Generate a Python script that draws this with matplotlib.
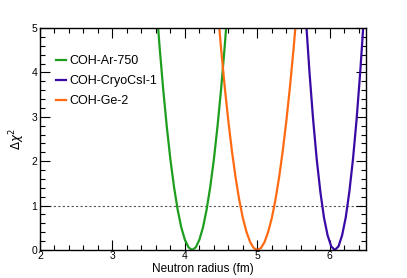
import numpy as np
import matplotlib
matplotlib.use("Agg")
import matplotlib.pyplot as plt
from matplotlib.ticker import MultipleLocator

plt.rcParams['font.family'] = ['Liberation Sans', 'DejaVu Sans']

# scan points: neutron radius (fm) vs delta chi2
ar_r = [3.60, 3.65, 3.70, 3.75, 3.80, 3.85, 3.90, 3.95, 4.00, 4.05, 4.10,
        4.15, 4.20, 4.25, 4.30, 4.35, 4.40, 4.45, 4.50, 4.55, 4.60]
ar_chi2 = [5.67, 4.59, 3.63, 2.78, 2.04, 1.42, 0.91, 0.51, 0.23, 0.06, 0.0,
           0.06, 0.23, 0.51, 0.91, 1.42, 2.04, 2.78, 3.63, 4.59, 5.67]

csi_r = [5.67, 5.72, 5.77, 5.82, 5.87, 5.92, 5.97, 6.02, 6.07,
         6.12, 6.17, 6.22, 6.27, 6.32, 6.37, 6.42, 6.47]
csi_chi2 = [5.22, 4.00, 2.94, 2.04, 1.31, 0.73, 0.33, 0.08, 0.0,
            0.08, 0.33, 0.73, 1.31, 2.04, 2.94, 4.00, 5.22]

ge_r = [4.45, 4.50, 4.55, 4.60, 4.65, 4.70, 4.75, 4.80, 4.85, 4.90, 4.95, 5.00,
        5.05, 5.10, 5.15, 5.20, 5.25, 5.30, 5.35, 5.40, 5.45, 5.50, 5.55]
ge_chi2 = [5.48, 4.53, 3.67, 2.90, 2.22, 1.63, 1.13, 0.72, 0.41, 0.18, 0.045, 0.0,
           0.045, 0.18, 0.41, 0.72, 1.13, 1.63, 2.22, 2.90, 3.67, 4.53, 5.48]

labels = ['COH-Ar-750', 'COH-CryoCsI-1', 'COH-Ge-2']
colors = ['#1e9e1e', '#3a0aa6', '#ff6a12']

fig = plt.figure(figsize=(4.07, 2.78), dpi=100)
ax = fig.add_axes([40/407, 28/278, 326/407, 222/278])

# dof line at delta chi2 = 1
ax.axhline(1, color='#555555', lw=0.8, ls=(0, (2, 2)), zorder=1)

ax.plot(ar_r, ar_chi2, color=colors[0], lw=1.6, label=labels[0])
ax.plot(csi_r, csi_chi2, color=colors[1], lw=1.6, label=labels[1])
ax.plot(ge_r, ge_chi2, color=colors[2], lw=1.6, label=labels[2])

ax.set_xlim(2, 6.5)
ax.set_ylim(0, 5)
ax.xaxis.set_major_locator(MultipleLocator(1))
ax.xaxis.set_minor_locator(MultipleLocator(0.2))
ax.yaxis.set_major_locator(MultipleLocator(1))
ax.yaxis.set_minor_locator(MultipleLocator(0.2))
ax.tick_params(which='both', direction='in', top=True, right=True, labelsize=7.5, width=0.8)
ax.tick_params(which='major', length=7)
ax.tick_params(which='minor', length=3.5)
ax.tick_params(axis='x', pad=1)
ax.tick_params(axis='y', pad=2)
for s in ax.spines.values():
    s.set_linewidth(1.0)

ax.set_xlabel('Neutron radius (fm)', fontsize=8.5, labelpad=1)
ax.set_ylabel(r'$\Delta\chi^2$', fontsize=8.5)
ax.yaxis.set_label_coords(-0.04, 0.5)

ax.legend(loc='upper left', bbox_to_anchor=(0.035, 0.90), frameon=False, fontsize=9,
          handlelength=0.8, handletextpad=0.25, labelspacing=0.65, borderaxespad=0)

fig.savefig('out.png', dpi=100)
